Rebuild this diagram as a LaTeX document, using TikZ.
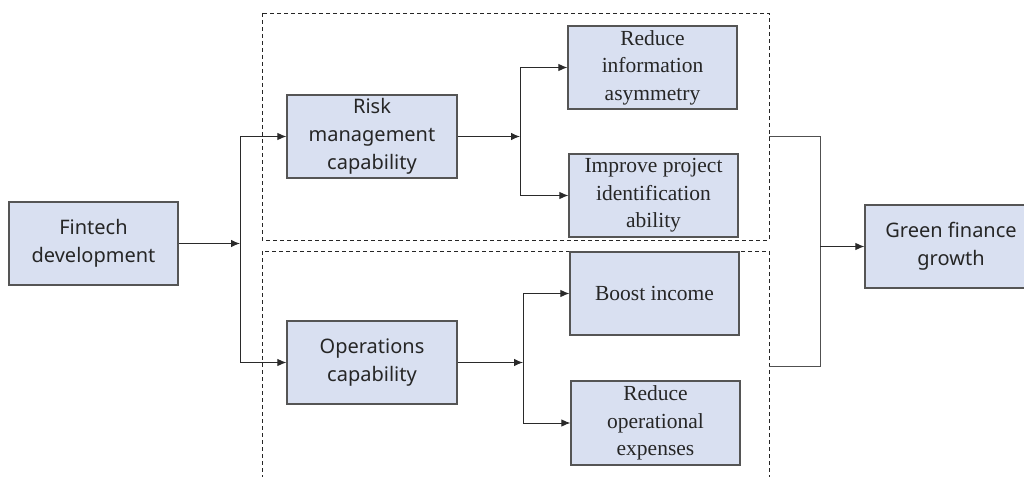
\documentclass[tikz,border=0pt]{standalone}
\usepackage{fontspec}
\setmainfont{Liberation Serif}
\newfontfamily\labelsans{Noto Sans}
\usetikzlibrary{arrows.meta}
\definecolor{boxfill}{HTML}{D9E0F1}
\definecolor{boxline}{HTML}{555555}
\definecolor{wireline}{HTML}{2A2A2A}
\definecolor{mergeline}{HTML}{505050}
\begin{document}
\begin{tikzpicture}[x=1pt,y=-1pt,
  box/.style={draw=boxline,line width=1.2pt,fill=boxfill,minimum width=169pt,minimum height=83pt,
    inner sep=0pt,align=center,text=black!85},
  sansbox/.style={box,font=\labelsans\fontsize{20}{28}\selectfont},
  serifbox/.style={box,font=\fontsize{21.5}{27.5}\selectfont},
  wire/.style={draw=wireline,line width=1pt},
  arr/.style={wire,-{Latex[length=9pt,width=7.5pt]}},
  grp/.style={draw=black!85,line width=0.9pt,dash pattern=on 4pt off 3pt}]
\useasboundingbox (0,0) rectangle (1024,476);
\clip (0,0) rectangle (1024,476);

% dashed groups
\draw[grp] (262,13) rectangle (769,240);
\draw[grp] (262,251) rectangle (769,500);
\coordinate (topgrp) at (769,136);
\coordinate (botgrp) at (769,366);

% boxes
\node[sansbox] (fin) at (93.5,243.5) {Fintech\\development};
\node[sansbox,minimum width=170pt] (risk) at (372,136.5) {Risk\\management\\capability};
\node[sansbox,minimum width=170pt] (ops) at (372,362.5) {Operations\\capability};
\node[serifbox] (info) at (652.5,67.5) {Reduce\\information\\asymmetry};
\node[serifbox] (ident) at (653.5,195.5) {Improve project\\identification\\ability};
\node[serifbox] (income) at (654.5,293.5) {Boost income};
\node[serifbox,minimum height=84pt] (costs) at (655.5,423) {Reduce\\operational\\expenses};
\node[sansbox,minimum width=172pt] (green) at (951,246.5) {Green finance\\growth};

% junctions
\coordinate (jfin) at (240,243.5);
\coordinate (jrisk) at (520,136.5);
\coordinate (jops) at (523,362.5);
\coordinate (jout) at (820,246.5);

% fintech to the two capabilities
\draw[arr] (fin.east) -- (jfin);
\draw[arr] (jfin) |- (risk.west);
\draw[arr] (jfin) |- (ops.west);

% risk management branch
\draw[arr] (risk.east) -- (jrisk);
\draw[arr] (jrisk) |- (info.west);
\draw[arr] (jrisk) |- (ident.west);

% operations branch
\draw[arr] (ops.east) -- (jops);
\draw[arr] (jops) |- (income.west);
\draw[arr] (jops) |- (costs.west);

% merge into green finance
\draw[wire,draw=mergeline] (topgrp) -| (jout);
\draw[wire,draw=mergeline] (botgrp) -| (jout);
\draw[arr] (jout) -- (green.west);
\end{tikzpicture}
\end{document}
